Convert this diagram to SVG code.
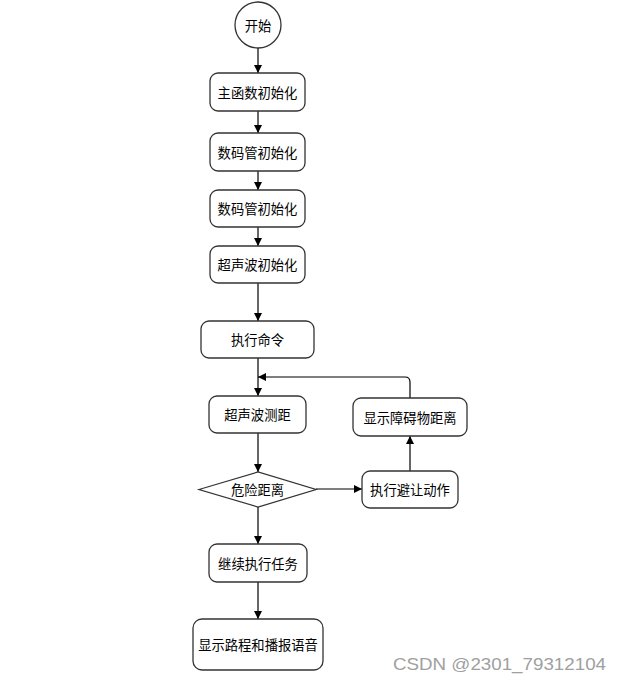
<svg xmlns="http://www.w3.org/2000/svg" width="621" height="683" viewBox="0 0 621 683">
<style>
.n{fill:#fff;stroke:#333;stroke-width:1.3}
.t{font-family:"Noto Sans CJK SC","Liberation Sans",sans-serif;font-size:13.3px;fill:#000;text-anchor:middle;dominant-baseline:central}
.c{fill:none;stroke:#000;stroke-width:1.2}
</style>
<defs>
<marker id="a" viewBox="0 0 10 10" refX="10" refY="5" markerWidth="8" markerHeight="8" markerUnits="userSpaceOnUse" orient="auto">
<path d="M0,0 L10,5 L0,10 z" fill="#000"/>
</marker>
</defs>
<rect width="621" height="683" fill="#fff"/>
<g id="connectors">
<path class="c" d="M258,48 V73" marker-end="url(#a)"/>
<path class="c" d="M258,111 V133" marker-end="url(#a)"/>
<path class="c" d="M258,171 V190" marker-end="url(#a)"/>
<path class="c" d="M258,227 V246" marker-end="url(#a)"/>
<path class="c" d="M258,283 V321" marker-end="url(#a)"/>
<path class="c" d="M258,358 V396" marker-end="url(#a)"/>
<path class="c" d="M258,433 V472" marker-end="url(#a)"/>
<path class="c" d="M258,507 V544" marker-end="url(#a)"/>
<path class="c" d="M258,582 V619" marker-end="url(#a)"/>
<path class="c" d="M316,489 H362" marker-end="url(#a)"/>
<path class="c" d="M410,471 V436" marker-end="url(#a)"/>
<path class="c" d="M410,398 V382 Q410,377 405,377 H258" marker-end="url(#a)"/>
</g>
<g id="start"><circle class="n" cx="258" cy="25" r="23"/><text class="t" x="258" y="25">开始</text></g>
<g id="n1"><rect class="n" x="210" y="73" width="95" height="38" rx="8"/><text class="t" x="257.500" y="92">主函数初始化</text></g>
<g id="n2"><rect class="n" x="210" y="133" width="95" height="38" rx="8"/><text class="t" x="257.500" y="152">数码管初始化</text></g>
<g id="n3"><rect class="n" x="210" y="190" width="95" height="37" rx="8"/><text class="t" x="257.500" y="208.500">数码管初始化</text></g>
<g id="n4"><rect class="n" x="210" y="246" width="95" height="37" rx="8"/><text class="t" x="257.500" y="264.500">超声波初始化</text></g>
<g id="n5"><rect class="n" x="201" y="321" width="113" height="37" rx="8"/><text class="t" x="257.500" y="339.500">执行命令</text></g>
<g id="n6"><rect class="n" x="209" y="396" width="97" height="37" rx="8"/><text class="t" x="257.500" y="414.500">超声波测距</text></g>
<g id="n7"><rect class="n" x="353" y="398" width="114" height="38" rx="8"/><text class="t" x="410" y="417">显示障碍物距离</text></g>
<g id="d1"><polygon class="n" points="199,489.500 258,472 316,489.500 258,507"/><text class="t" x="257.500" y="489.500">危险距离</text></g>
<g id="n8"><rect class="n" x="362" y="471" width="96" height="37" rx="8"/><text class="t" x="410" y="489.500">执行避让动作</text></g>
<g id="n9"><rect class="n" x="209" y="544" width="98" height="38" rx="8"/><text class="t" x="258" y="563">继续执行任务</text></g>
<g id="n10"><rect class="n" x="193" y="619" width="130" height="51" rx="9"/><text class="t" x="258" y="644.500">显示路程和播报语音</text></g>
<text x="393" y="670" font-family="Liberation Sans, sans-serif" font-size="17" fill="#a0a0a0" textLength="213" lengthAdjust="spacingAndGlyphs">CSDN @2301_79312104</text>
</svg>
